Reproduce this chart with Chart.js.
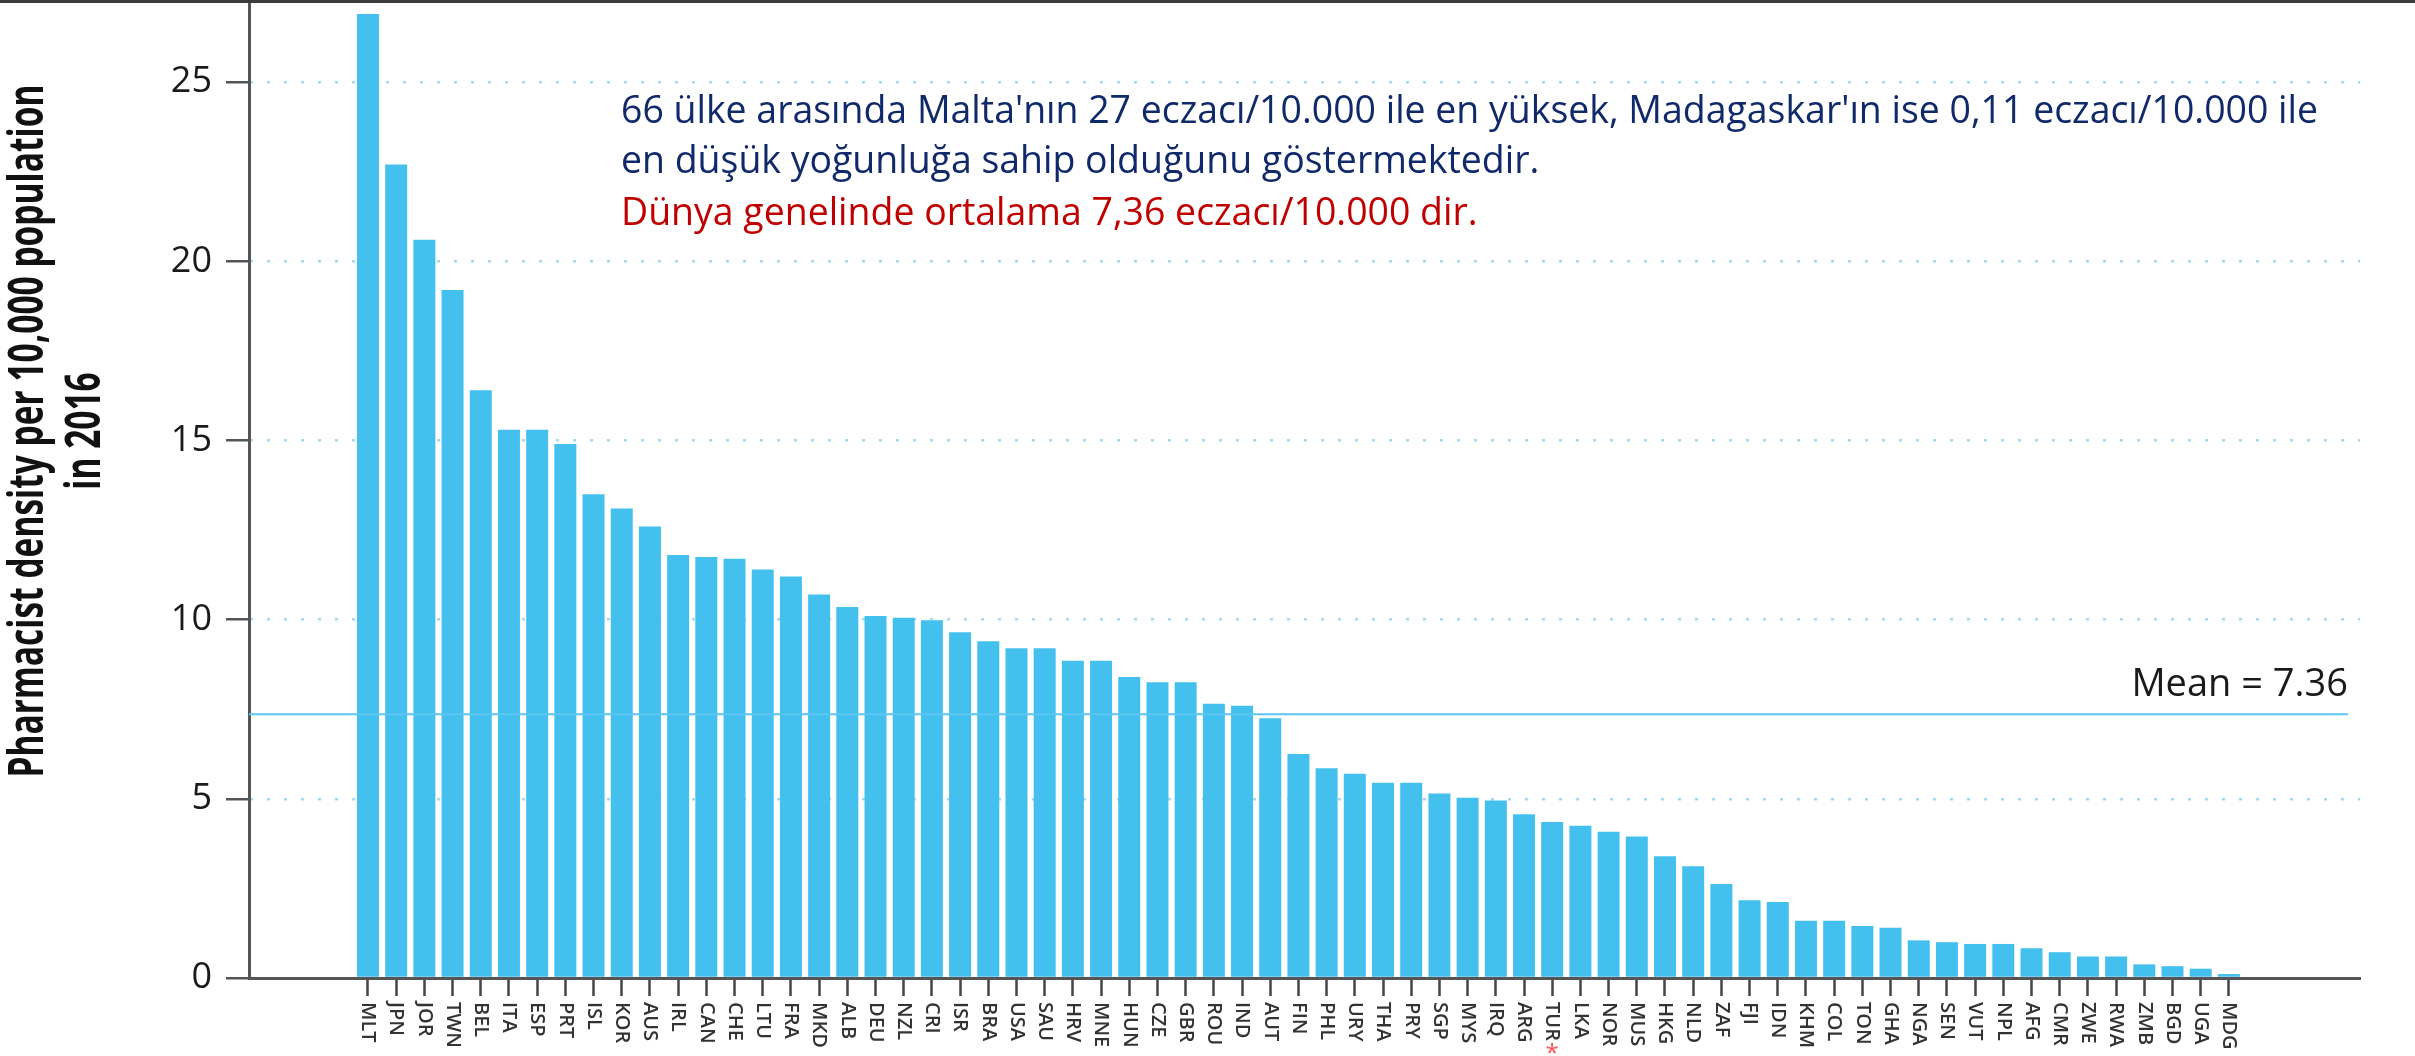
<!DOCTYPE html>
<html>
<head>
<meta charset="utf-8">
<script src="https://cdn.jsdelivr.net/npm/chart.js@4.4.0/dist/chart.umd.min.js"></script>
<style>
  html, body { margin: 0; padding: 0; background: #fff; }
  canvas { display: block; }
</style>
</head>
<body>
<canvas id="chartArea" width="2415" height="1056"></canvas>
<script>
// ülke kodları (grafikteki sırayla)
const countries = [
  'MLT', 'JPN', 'JOR', 'TWN', 'BEL', 'ITA', 'ESP', 'PRT', 'ISL', 'KOR', 'AUS', 'IRL',
  'CAN', 'CHE', 'LTU', 'FRA', 'MKD', 'ALB', 'DEU', 'NZL', 'CRI', 'ISR', 'BRA', 'USA',
  'SAU', 'HRV', 'MNE', 'HUN', 'CZE', 'GBR', 'ROU', 'IND', 'AUT', 'FIN', 'PHL', 'URY',
  'THA', 'PRY', 'SGP', 'MYS', 'IRQ', 'ARG', 'TUR', 'LKA', 'NOR', 'MUS', 'HKG', 'NLD',
  'ZAF', 'FJI', 'IDN', 'KHM', 'COL', 'TON', 'GHA', 'NGA', 'SEN', 'VUT', 'NPL', 'AFG',
  'CMR', 'ZWE', 'RWA', 'ZMB', 'BGD', 'UGA', 'MDG'
];

// eczacı / 10.000 nüfus (2016)
const density = [
  26.9, 22.7, 20.6, 19.2, 16.4, 15.3, 15.3, 14.9, 13.5, 13.1, 12.6, 11.8,
  11.75, 11.7, 11.4, 11.2, 10.7, 10.35, 10.1, 10.05, 9.98, 9.65, 9.4, 9.2,
  9.2, 8.85, 8.85, 8.4, 8.25, 8.25, 7.65, 7.6, 7.25, 6.25, 5.85, 5.7,
  5.45, 5.45, 5.15, 5.03, 4.95, 4.57, 4.35, 4.25, 4.08, 3.95, 3.4, 3.12,
  2.62, 2.17, 2.12, 1.6, 1.6, 1.45, 1.4, 1.05, 1.0, 0.95, 0.95, 0.83,
  0.72, 0.6, 0.6, 0.38, 0.33, 0.26, 0.11
];

const meanValue = 7.36;
const yTickValues = [0, 5, 10, 15, 20, 25];
const highlightCountry = 'TUR';

const axisTitle = ['Pharmacist density per 10,000 population', 'in 2016'];
const noteLines = [
  "66 ülke arasında Malta'nın 27 eczacı/10.000 ile en yüksek, Madagaskar'ın ise 0,11 eczacı/10.000 ile",
  'en düşük yoğunluğa sahip olduğunu göstermektedir.',
  'Dünya genelinde ortalama 7,36 eczacı/10.000 dir.'
];
const noteColors = ['#10296b', '#10296b', '#c00000'];

const points = density.map((v, i) => ({ x: i, y: v }));

const extras = {
  id: 'extras',
  afterDatasetsDraw(chart) {
    const { ctx, chartArea, scales } = chart;
    const y = scales.y;
    const my = y.getPixelForValue(meanValue);
    const endX = chartArea.right - 12;

    // ortalama çizgisi
    ctx.save();
    ctx.strokeStyle = '#5cc6f2';
    ctx.lineWidth = 2;
    ctx.beginPath();
    ctx.moveTo(chartArea.left, my);
    ctx.lineTo(endX, my);
    ctx.stroke();

    ctx.fillStyle = '#1a1a1a';
    ctx.font = '38px "Open Sans"';
    ctx.textAlign = 'right';
    ctx.textBaseline = 'alphabetic';
    ctx.fillText('Mean = ' + meanValue.toFixed(2), endX, my - 18);
    ctx.restore();
  },
  afterDraw(chart) {
    const { ctx, chartArea, scales } = chart;
    const x = scales.x;

    // üstteki koyu kenar
    ctx.save();
    ctx.fillStyle = '#3c3c3c';
    ctx.fillRect(0, 0, chart.width, 3);
    ctx.restore();

    // x etiketleri (saat yönünde döndürülmüş)
    ctx.save();
    ctx.font = '600 20px "Open Sans"';
    ctx.textAlign = 'left';
    ctx.textBaseline = 'middle';
    countries.forEach((c, i) => {
      const px = x.getPixelForValue(i);
      ctx.save();
      ctx.fillStyle = '#333';
      ctx.translate(px, chartArea.bottom + 24);
      ctx.rotate(Math.PI / 2);
      ctx.fillText(c, 0, 0);
      ctx.restore();
      if (c === highlightCountry) {
        ctx.save();
        ctx.fillStyle = '#ff4d4d';
        ctx.font = '24px "Open Sans"';
        ctx.textAlign = 'center';
        ctx.fillText('*', px, chartArea.bottom + 76);
        ctx.restore();
      }
    });
    ctx.restore();

    // y ekseni başlığı
    ctx.save();
    ctx.font = 'bold 48px "Open Sans"';
    ctx.fillStyle = '#111';
    const tw = ctx.measureText(axisTitle[0]).width;
    const tsx = 693 / tw;
    ctx.translate(43, 431);
    ctx.rotate(-Math.PI / 2);
    ctx.scale(tsx, 1);
    ctx.textAlign = 'center';
    ctx.textBaseline = 'alphabetic';
    ctx.fillText(axisTitle[0], 0, 0);
    ctx.fillText(axisTitle[1], 0, 57);
    ctx.restore();

    // açıklama metni
    ctx.save();
    ctx.font = '38px "Open Sans"';
    ctx.textAlign = 'left';
    ctx.textBaseline = 'alphabetic';
    const nw = ctx.measureText(noteLines[0]).width;
    const nsx = 1697 / nw;
    const baselines = [123, 173, 225];
    noteLines.forEach((t, i) => {
      ctx.save();
      ctx.translate(621, baselines[i]);
      ctx.scale(nsx, 1);
      ctx.fillStyle = noteColors[i];
      ctx.fillText(t, 0, 0);
      ctx.restore();
    });
    ctx.restore();
  }
};

const chartArea = document.getElementById('chartArea');

const myChart = new Chart(chartArea, {
  type: 'bar',
  data: {
    datasets: [
      {
        label: 'density',
        data: points,
        backgroundColor: '#44c0ee',
        borderWidth: 0,
        barPercentage: 0.78,
        categoryPercentage: 1,
      },
    ],
  },
  options: {
    responsive: false,
    animation: false,
    layout: { padding: { left: 0, right: 55, top: 0, bottom: 0 } },
    plugins: {
      legend: { display: false },
      tooltip: { enabled: false },
    },
    scales: {
      x: {
        type: 'linear',
        offset: false,
        min: -4.22,
        max: 70.65,
        afterBuildTicks: (scale) => {
          scale.ticks = countries.map((_, i) => ({ value: i }));
        },
        afterFit: (scale) => {
          scale.height = 78;
          scale.paddingLeft = 0;
          scale.paddingRight = 0;
        },
        ticks: { display: false },
        grid: {
          offset: false,
          drawOnChartArea: false,
          drawTicks: true,
          tickLength: 18,
          tickColor: '#444',
          tickWidth: 2.5,
        },
        border: { display: true, color: '#555', width: 3 },
      },
      y: {
        min: 0,
        max: 27.29,
        afterBuildTicks: (scale) => {
          scale.ticks = yTickValues.map((v) => ({ value: v }));
        },
        afterFit: (scale) => {
          scale.width = 249;
          scale.paddingTop = 0;
          scale.paddingBottom = 0;
        },
        ticks: {
          color: '#1a1a1a',
          padding: 14,
          font: { family: 'Open Sans', size: 36 },
        },
        grid: {
          color: '#a3d9f2',
          lineWidth: 2.5,
          tickLength: 23,
          tickColor: '#555',
          tickWidth: 2.5,
          tickBorderDash: [],
        },
        border: { display: true, color: '#555', width: 3, dash: [3, 14], dashOffset: -16 },
      },
    },
  },
  plugins: [extras],
});
</script>
</body>
</html>
